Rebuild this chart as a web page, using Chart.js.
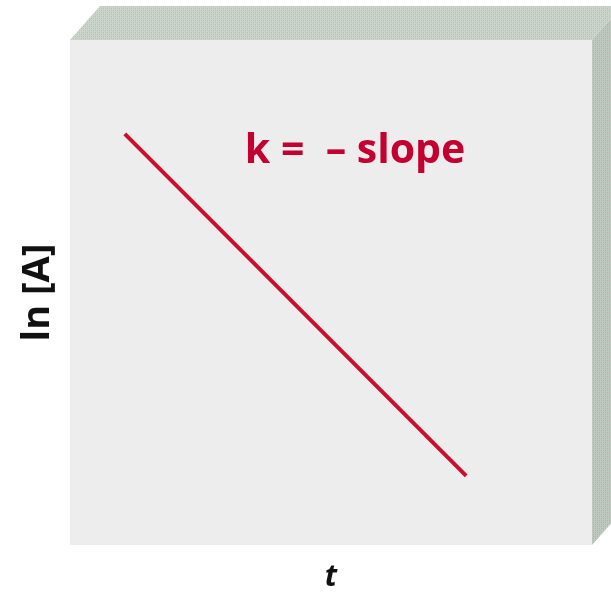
<!DOCTYPE html>
<html><head><meta charset="utf-8">
<script src="https://cdn.jsdelivr.net/npm/chart.js@4"></script>
<style>html,body{margin:0;padding:0;background:#fff;}#wrap{width:611px;height:595px;}</style>
</head><body><div id="wrap"><canvas id="c" width="611" height="595"></canvas></div>
<script>
const timeValues = [10.5, 75.9];
const lnAValues = [81.4, 13.7];
const xTitle = 't';
const yTitle = 'ln [A]';
const annotationText = 'k =  \u2013 slope';

function makePattern(ctx, base, dot, dark){
  const p = document.createElement('canvas'); p.width = 4; p.height = 4;
  const g = p.getContext('2d');
  g.fillStyle = base; g.fillRect(0,0,4,4);
  g.fillStyle = dot; g.fillRect(0,0,1,1); g.fillRect(2,2,1,1);
  g.fillStyle = dark; g.fillRect(1,2,1,1); g.fillRect(3,0,1,1); g.fillRect(1,0,1,1); g.fillRect(3,2,1,1);
  return ctx.createPattern(p,'repeat');
}

const boxPlugin = {
  id: 'box3d',
  beforeDraw(chart){
    const {ctx, chartArea:a} = chart;
    const dx = 30, dy = 34;
    ctx.save();
    ctx.fillStyle = makePattern(ctx, '#cfcfcf', '#c4e8c4', '#bebebe');
    ctx.beginPath();
    ctx.moveTo(a.left, a.top);
    ctx.lineTo(a.left + dx, a.top - dy);
    ctx.lineTo(a.right + dx, a.top - dy);
    ctx.lineTo(a.right, a.top);
    ctx.closePath(); ctx.fill();
    ctx.fillStyle = makePattern(ctx, '#c3c3bf', '#b4d6bc', '#b2b2ae');
    ctx.beginPath();
    ctx.moveTo(a.right, a.top);
    ctx.lineTo(a.right + dx, a.top - dy);
    ctx.lineTo(a.right + dx, a.bottom - dy);
    ctx.lineTo(a.right, a.bottom);
    ctx.closePath(); ctx.fill();
    ctx.fillStyle = '#ededed';
    ctx.fillRect(a.left, a.top, a.right - a.left, a.bottom - a.top);
    ctx.restore();
  },
  afterDatasetsDraw(chart){
    const {ctx} = chart;
    const xs = chart.scales.x, ys = chart.scales.y;
    ctx.save();
    ctx.fillStyle = '#c3002f';
    ctx.font = 'bold 41px "Open Sans"';
    ctx.textBaseline = 'alphabetic';
    ctx.textAlign = 'left';
    ctx.fillText(annotationText, xs.getPixelForValue(33.5), ys.getPixelForValue(75.6));
    ctx.restore();
  }
};

new Chart(document.getElementById('c'), {
  type: 'line',
  data: {
    datasets: [{
      data: timeValues.map((t,i)=>({x:t, y:lnAValues[i]})),
      borderColor: '#c8102e',
      borderWidth: 4,
      pointRadius: 0,
      fill: false,
      tension: 0
    }]
  },
  options: {
    responsive: false,
    animation: false,
    layout: { padding: { top: 40, right: 19, left: 0, bottom: 0 } },
    plugins: { legend: { display: false }, tooltip: { enabled: false } },
    scales: {
      x: {
        type: 'linear', min: 0, max: 100,
        grid: { display: false }, border: { display: false },
        ticks: { display: false },
        title: { display: true, text: xTitle, color: '#111', font: { family: '"Open Sans"', size: 30, weight: 'bold', style: 'italic' }, padding: 0 },
        afterFit(s){ s.height = 50; }
      },
      y: {
        type: 'linear', min: 0, max: 100,
        grid: { display: false }, border: { display: false },
        ticks: { display: false },
        title: { display: true, text: yTitle, color: '#111', font: { family: '"Open Sans"', size: 38, weight: 'bold' }, padding: { top: 15, bottom: 0 } },
        afterFit(s){ s.width = 70; }
      }
    }
  },
  plugins: [boxPlugin]
});
</script></body></html>
